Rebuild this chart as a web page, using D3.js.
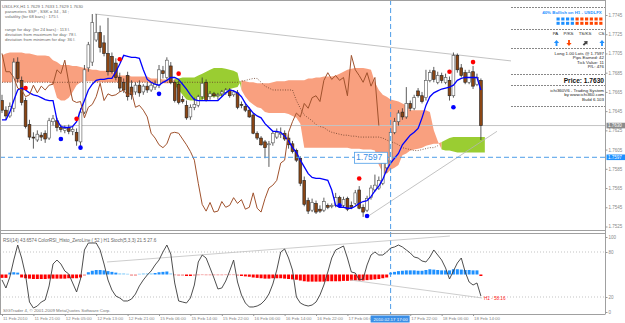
<!DOCTYPE html>
<html>
<head>
<meta charset="utf-8">
<script src="https://cdnjs.cloudflare.com/ajax/libs/d3/7.8.5/d3.min.js"></script>
<style>
  body { margin: 0; background: #fff; }
  text { font-family: "Liberation Sans", Arial, sans-serif; }
</style>
</head>
<body>
<div id="chart"></div>
<script>
// ---- USDLFX H1 candles (bar 0 = 11 Feb 2010) ----
const open = [
  1.7656,1.7646,1.7640,1.7648,1.7696,1.7677,1.7656,1.7631,1.7618,1.7615,
  1.7620,1.7622,1.7617,1.7634,1.7635,1.7628,1.7625,1.7628,1.7624,1.7623,
  1.7613,1.7644,1.7690,1.7696,1.7719,1.7727,1.7716,1.7705,1.7702,1.7695,
  1.7680,1.7675,1.7682,1.7670,1.7665,1.7672,1.7665,1.7671,1.7667,1.7670,
  1.7672,1.7687,1.7680,1.7692,1.7675,1.7673,1.7657,1.7651,1.7639,1.7649,
  1.7651,1.7660,1.7675,1.7660,1.7663,1.7661,1.7663,1.7664,1.7667,1.7662,
  1.7664,1.7652,1.7650,1.7646,1.7641,1.7622,1.7617,1.7613,1.7610,1.7612,
  1.7618,1.7621,1.7622,1.7617,1.7611,1.7604,1.7596,1.7573,1.7552,1.7542,
  1.7549,1.7543,1.7542,1.7547,1.7546,1.7547,1.7555,1.7547,1.7554,1.7547,
  1.7549,1.7563,1.7545,1.7542,1.7555,1.7563,1.7565,1.7570,1.7586,1.7592,
  1.7623,1.7634,1.7644,1.7639,1.7653,1.7648,1.7666,1.7661,1.7659,1.7677,
  1.7687,1.7675,1.7682,1.7675,1.7677,1.7661,1.7703,1.7690,1.7685,1.7675,
  1.7686,1.7673,1.7677];
const high = [
  1.7662,1.7650,1.7654,1.7700,1.7701,1.7681,1.7659,1.7636,1.7623,1.7625,
  1.7623,1.7625,1.7638,1.7641,1.7638,1.7631,1.7630,1.7631,1.7629,1.7627,
  1.7648,1.7693,1.7717,1.7746,1.7746,1.7734,1.7724,1.7742,1.7706,1.7700,
  1.7685,1.7679,1.7686,1.7677,1.7675,1.7677,1.7673,1.7675,1.7675,1.7677,
  1.7693,1.7692,1.7701,1.7696,1.7677,1.7677,1.7661,1.7656,1.7652,1.7659,
  1.7662,1.7680,1.7678,1.7666,1.7665,1.7664,1.7667,1.7669,1.7669,1.7667,
  1.7667,1.7655,1.7653,1.7649,1.7643,1.7624,1.7619,1.7615,1.7614,1.7624,
  1.7627,1.7628,1.7625,1.7621,1.7614,1.7606,1.7598,1.7577,1.7555,1.7554,
  1.7552,1.7547,1.7555,1.7549,1.7549,1.7560,1.7557,1.7556,1.7556,1.7551,
  1.7563,1.7567,1.7548,1.7557,1.7568,1.7579,1.7577,1.7602,1.7599,1.7627,
  1.7638,1.7646,1.7648,1.7670,1.7656,1.7662,1.7669,1.7665,1.7688,1.7688,
  1.7691,1.7686,1.7685,1.7684,1.7681,1.7706,1.7705,1.7694,1.7688,1.7688,
  1.7692,1.7684,1.7679];
const low = [
  1.7643,1.7636,1.7638,1.7644,1.7675,1.7651,1.7627,1.7615,1.7606,1.7613,
  1.7614,1.7612,1.7615,1.7630,1.7624,1.7623,1.7622,1.7621,1.7620,1.7609,
  1.7606,1.7642,1.7686,1.7692,1.7717,1.7706,1.7702,1.7682,1.7684,1.7677,
  1.7665,1.7664,1.7656,1.7657,1.7662,1.7660,1.7662,1.7664,1.7665,1.7667,
  1.7669,1.7679,1.7678,1.7673,1.7654,1.7652,1.7653,1.7636,1.7636,1.7646,
  1.7649,1.7657,1.7655,1.7657,1.7659,1.7657,1.7660,1.7662,1.7659,1.7660,
  1.7647,1.7648,1.7644,1.7638,1.7621,1.7615,1.7609,1.7596,1.7587,1.7609,
  1.7616,1.7617,1.7614,1.7606,1.7601,1.7592,1.7567,1.7546,1.7538,1.7540,
  1.7538,1.7539,1.7540,1.7543,1.7544,1.7545,1.7546,1.7545,1.7541,1.7543,
  1.7547,1.7543,1.7535,1.7540,1.7553,1.7561,1.7563,1.7568,1.7581,1.7590,
  1.7621,1.7630,1.7636,1.7637,1.7645,1.7646,1.7659,1.7653,1.7656,1.7675,
  1.7675,1.7673,1.7674,1.7673,1.7656,1.7659,1.7685,1.7680,1.7673,1.7673,
  1.7668,1.7671,1.7615];
const close = [
  1.7646,1.7640,1.7650,1.7696,1.7679,1.7654,1.7629,1.7618,1.7617,1.7621,
  1.7618,1.7616,1.7635,1.7637,1.7628,1.7626,1.7627,1.7624,1.7626,1.7614,
  1.7644,1.7688,1.7714,1.7737,1.7727,1.7711,1.7705,1.7686,1.7686,1.7680,
  1.7669,1.7667,1.7660,1.7662,1.7672,1.7664,1.7671,1.7667,1.7672,1.7673,
  1.7688,1.7684,1.7698,1.7675,1.7656,1.7654,1.7655,1.7638,1.7649,1.7652,
  1.7660,1.7674,1.7656,1.7663,1.7661,1.7662,1.7665,1.7667,1.7661,1.7665,
  1.7649,1.7651,1.7646,1.7639,1.7622,1.7617,1.7610,1.7607,1.7611,1.7622,
  1.7623,1.7622,1.7616,1.7610,1.7603,1.7594,1.7570,1.7548,1.7541,1.7550,
  1.7540,1.7541,1.7551,1.7545,1.7547,1.7555,1.7549,1.7553,1.7543,1.7545,
  1.7560,1.7544,1.7540,1.7554,1.7565,1.7568,1.7573,1.7591,1.7594,1.7623,
  1.7634,1.7643,1.7639,1.7653,1.7648,1.7659,1.7661,1.7655,1.7677,1.7685,
  1.7678,1.7682,1.7677,1.7680,1.7661,1.7703,1.7688,1.7682,1.7675,1.7685,
  1.7671,1.7680,1.7630];

// blue signal line
const signalLine = [
  1.7636,1.7636,1.7644,1.7656,1.7667,1.7669,1.7667,1.7664,1.7662,1.7661,
  1.7659,1.7657,1.7656,1.7656,1.7636,1.7629,1.7628,1.7628,1.7629,1.7634,
  1.7646,1.7656,1.7667,1.7673,1.7677,1.7678,1.7678,1.7679,1.7679,1.7686,
  1.7694,1.7703,1.7702,1.7701,1.7701,1.7700,1.7688,1.7678,1.7675,1.7673,
  1.7672,1.7675,1.7677,1.7680,1.7680,1.7678,1.7673,1.7668,1.7662,1.7657,
  1.7656,1.7656,1.7656,1.7656,1.7656,1.7656,1.7660,1.7664,1.7667,1.7666,
  1.7664,1.7660,1.7653,1.7648,1.7643,1.7640,1.7638,1.7632,1.7628,1.7624,
  1.7624,1.7623,1.7619,1.7614,1.7607,1.7602,1.7594,1.7587,1.7580,1.7576,
  1.7575,1.7575,1.7574,1.7573,1.7563,1.7547,1.7545,1.7545,1.7544,1.7544,
  1.7546,1.7549,1.7551,1.7552,1.7556,1.7562,1.7567,1.7574,1.7584,1.7591,
  1.7596,1.7601,1.7610,1.7615,1.7620,1.7623,1.7627,1.7638,1.7651,1.7660,
  1.7664,1.7666,1.7668,1.7669,1.7670,1.7672,1.7677,1.7679,1.7680,1.7680,
  1.7680,1.7680,1.7667];

// cloud spans (one bar longer than the candles)
const spanA = [
  1.7675,1.7675,1.7675,1.7675,1.7675,1.7675,1.7675,1.7675,1.7675,1.7675,
  1.7675,1.7675,1.7675,1.7673,1.7659,1.7656,1.7656,1.7659,1.7665,1.7672,
  1.7675,1.7676,1.7676,1.7676,1.7675,1.7675,1.7675,1.7675,1.7675,1.7675,
  1.7675,1.7675,1.7675,1.7675,1.7675,1.7675,1.7675,1.7675,1.7674,1.7674,
  1.7674,1.7674,1.7674,1.7674,1.7679,1.7679,1.7680,1.7680,1.7680,1.7680,
  1.7682,1.7684,1.7686,1.7688,1.7690,1.7690,1.7690,1.7689,1.7688,1.7687,
  1.7685,1.7667,1.7660,1.7655,1.7652,1.7649,1.7648,1.7644,1.7643,1.7643,
  1.7643,1.7643,1.7643,1.7642,1.7640,1.7638,1.7632,1.7607,1.7607,1.7607,
  1.7607,1.7607,1.7607,1.7607,1.7607,1.7607,1.7607,1.7607,1.7607,1.7606,
  1.7606,1.7606,1.7605,1.7605,1.7605,1.7604,1.7589,1.7581,1.7580,1.7584,
  1.7586,1.7589,1.7599,1.7601,1.7604,1.7605,1.7606,1.7607,1.7609,1.7610,
  1.7611,1.7611,1.7613,1.7615,1.7617,1.7618,1.7618,1.7618,1.7618,1.7618,
  1.7618,1.7618,1.7618,1.7618];
const spanB = [
  1.7703,1.7705,1.7706,1.7706,1.7706,1.7706,1.7705,1.7705,1.7704,1.7703,
  1.7703,1.7703,1.7702,1.7698,1.7696,1.7693,1.7693,1.7693,1.7692,1.7692,
  1.7691,1.7690,1.7689,1.7688,1.7688,1.7687,1.7687,1.7687,1.7687,1.7682,
  1.7682,1.7682,1.7682,1.7681,1.7681,1.7681,1.7681,1.7681,1.7679,1.7679,
  1.7679,1.7678,1.7678,1.7678,1.7672,1.7667,1.7662,1.7657,1.7656,1.7656,
  1.7656,1.7657,1.7659,1.7660,1.7660,1.7660,1.7661,1.7666,1.7668,1.7669,
  1.7670,1.7677,1.7676,1.7675,1.7675,1.7674,1.7674,1.7674,1.7674,1.7675,
  1.7676,1.7676,1.7676,1.7677,1.7677,1.7677,1.7677,1.7677,1.7679,1.7679,
  1.7680,1.7680,1.7681,1.7681,1.7681,1.7682,1.7684,1.7686,1.7688,1.7689,
  1.7690,1.7690,1.7690,1.7689,1.7688,1.7675,1.7667,1.7662,1.7660,1.7657,
  1.7656,1.7655,1.7653,1.7651,1.7646,1.7646,1.7646,1.7646,1.7646,1.7644,
  1.7625,1.7614,1.7605,1.7604,1.7604,1.7603,1.7602,1.7602,1.7602,1.7602,
  1.7602,1.7602,1.7602,1.7602];
// dotted span line inside the cloud
const spanLine = [
  1.7675,1.7675,1.7675,1.7675,1.7675,1.7675,1.7675,1.7675,1.7675,1.7675,
  1.7675,1.7675,1.7675,1.7675,1.7675,1.7675,1.7675,1.7675,1.7675,1.7675,
  1.7675,1.7675,1.7675,1.7675,1.7675,1.7675,1.7675,1.7675,1.7675,1.7675,
  1.7675,1.7675,1.7675,1.7675,1.7675,1.7675,1.7675,1.7675,1.7675,1.7675,
  1.7675,1.7675,1.7675,1.7675,1.7675,1.7675,1.7675,1.7675,1.7675,1.7675,
  1.7675,1.7675,1.7675,1.7675,1.7675,1.7675,1.7675,1.7675,1.7675,1.7675,
  1.7675,1.7676,1.7677,1.7678,1.7679,1.7679,1.7675,1.7671,1.7669,1.7667,
  1.7667,1.7667,1.7667,1.7667,1.7667,1.7656,1.7648,1.7641,1.7638,1.7635,
  1.7631,1.7629,1.7628,1.7625,1.7623,1.7622,1.7621,1.7620,1.7620,1.7619,
  1.7619,1.7618,1.7618,1.7618,1.7618,1.7618,1.7618,1.7617,1.7615,1.7613,
  1.7612,1.7610,1.7607,1.7606,1.7605,1.7604,1.7604,1.7605,1.7606,1.7607,
  1.7607,1.7609];

// fractal dots: [bar, price]
const redDots = [[6,1.7669],[19,1.7637],[30,1.7699],[45,1.7684],[91,1.7575],[114,1.7686],[120,1.7696]];
const blueDots = [[15,1.7616],[20,1.7607],[40,1.7663],[86,1.7547],[93,1.7536],[115,1.7649]];

// trend lines: [bar1, value1, bar2, value2]
const mainTrend = [[23.7,1.7746,130.2,1.7697],[93,1.7535,126.1,1.7624]];
const subTrend = [[26.75,66.7,114.1,101.3],[88.7,42.7,122.3,18.7]];

// sub window: Stoch(5,3,3) main line and ColorRSI(52) histogram
const stoch = [
  42.7,32,46.7,69.3,89.3,72,49.3,13.3,5.3,8,
  13.3,16,34.7,64,69.3,64,54.7,50.7,38.7,26.7,
  44,82.7,92,92,92,82.7,64,42.7,29.3,21.3,
  18.7,14.7,14.7,17.3,24,34.7,42.7,49.3,54.7,62.7,
  69.3,80,89.3,77.3,38.7,14.7,13.3,12,18.7,36,
  66.7,76,72,58.7,45.3,30.7,32,41.3,54.7,69.3,
  40,22.7,12,6.7,6.7,8,10.7,16,24,37.3,
  56,80,84,72,56,20,12,9.3,8,9.3,
  13.3,22.7,36,53.3,72,82.7,85.3,88,72,53.3,
  52,42.7,44,62.7,76,80,76,76,80,85.3,
  86.7,89.3,86.7,82.7,78.7,73.3,72,68,66.7,73.3,
  82.7,76,69.3,58.7,44,54.7,65.3,72,53.3,40,
  36,38.7,21.3];
const rsiHisto = [
  45.5,45.5,52.5,53,52.5,46,45,44.5,44,44,
  44,44,44.5,44.5,44.5,44.5,44.5,45,45,45,
  46,48.5,53,55,56,56,55.5,54.5,53.5,52.5,
  51.5,51.5,51,48.5,48.5,51,51.5,51.5,51.5,52,
  53,53.5,54,51.5,49,48.5,48.5,48,48,48.5,
  49,49.5,49,49,49,49,49,49.5,49.5,49.5,
  48.5,48,47.5,47,46,45.5,45,44.5,44.5,45,
  45,45,44.5,44,43.5,43,42,41,40.5,40.5,
  40.5,40.5,40.5,41,41,41,41,41.5,41.5,42,
  42,42,42,42.5,43,43.5,44,45,46,52.5,
  53.5,54.5,55,55.5,55.5,55.5,55,55,56,57,
  56.5,56,55.5,55.5,55.5,57,57,56.5,56,56,
  55.5,55.5,48];

// axes
const priceTicks = [1.7745,1.7725,1.7705,1.7685,1.7665,1.7645,1.7625,1.7605,1.7585,1.7565,1.7545,1.7525];
const subTicks = [0,20,80,100];
// the 17 Feb 14:00 tick sits under the cursor time box, so it is left out
const timeIdx = [0,8,16,24,32,40,48,56,64,72,80,88,104,112,120];
const timeLabels = ['11 Feb 2010','11 Feb 21:00','12 Feb 05:00','12 Feb 13:00','12 Feb 21:00','15 Feb 06:00',
  '15 Feb 14:00','15 Feb 22:00','16 Feb 06:00','16 Feb 14:00','16 Feb 22:00','17 Feb 06:00',
  '17 Feb 22:00','18 Feb 06:00','18 Feb 14:00'];

const bidPrice = 1.7630, entryPrice = 1.7597, cursorBar = 99;

const W = 625, H = 323;
const AXIS_X = 605.5, MAIN_B = 231, SUB_T = 234, SUB_B = 314;

let svg = d3.select('#chart').append('svg').attr('width', W).attr('height', H);
svg.append('rect').attr('width', W).attr('height', H).attr('fill', '#fff');

let defs = svg.append('defs');
defs.append('clipPath').attr('id', 'clip-main').append('rect')
    .attr('x', 0).attr('y', 0).attr('width', AXIS_X).attr('height', MAIN_B);
defs.append('clipPath').attr('id', 'clip-sub').append('rect')
    .attr('x', 0).attr('y', SUB_T).attr('width', AXIS_X).attr('height', SUB_B - SUB_T);

// scales
let x = d3.scaleLinear().domain([0, 122]).range([2, 480.9]);
let y = d3.scaleLinear().domain([1.7525, 1.7745]).range([226.5, 15]);
let ys = d3.scaleLinear().domain([0, 100]).range([312, 237]);

let main = svg.append('g').attr('clip-path', 'url(#clip-main)');

// Ichimoku cloud, split into runs of the same colour
let runs = [];
spanA.forEach((a, i) => {
    let up = a >= spanB[i];
    let last = runs[runs.length - 1];
    if (!last || last.up !== up) {
        if (last) last.idx.push(i);
        runs.push({ up: up, idx: [i] });
    } else {
        last.idx.push(i);
    }
});
let cloudArea = d3.area().x(i => x(i)).y0(i => y(spanA[i])).y1(i => y(spanB[i]));
main.selectAll('path.cloud').data(runs).join('path')
    .attr('class', 'cloud')
    .attr('d', r => cloudArea(r.idx))
    .attr('fill', r => r.up ? '#9ACD32' : '#F9A07F');

main.append('path')
    .attr('d', d3.line().x((d, i) => x(i)).y(d => y(d))(spanLine))
    .attr('fill', 'none').attr('stroke', '#6b3f2a').attr('stroke-width', 0.8)
    .attr('stroke-dasharray', '1,1.5');

// bid line
main.append('line').attr('x1', 0).attr('x2', AXIS_X).attr('y1', y(bidPrice)).attr('y2', y(bidPrice))
    .attr('stroke', '#c4c4c4');

// trend lines
main.selectAll('line.trend').data(mainTrend).join('line')
    .attr('x1', d => x(d[0])).attr('y1', d => y(d[1]))
    .attr('x2', d => x(d[2])).attr('y2', d => y(d[3]))
    .attr('stroke', '#b4b4b4').attr('stroke-width', 0.8);

// candles
let bars = close.map((c, i) => ({ i: i, o: open[i], h: high[i], l: low[i], c: c }));
main.selectAll('line.wick').data(bars).join('line')
    .attr('x1', d => x(d.i)).attr('x2', d => x(d.i))
    .attr('y1', d => y(d.h)).attr('y2', d => y(d.l))
    .attr('stroke', '#333').attr('stroke-width', 0.8);
main.selectAll('rect.body').data(bars).join('rect')
    .attr('x', d => x(d.i) - 1.4).attr('width', 2.8)
    .attr('y', d => y(Math.max(d.o, d.c)))
    .attr('height', d => Math.max(0.8, Math.abs(y(d.o) - y(d.c))))
    .attr('fill', d => d.c >= d.o ? '#fff' : '#8B4513')
    .attr('stroke', d => d.c >= d.o ? '#555' : '#222').attr('stroke-width', 0.6);

// blue line
main.append('path')
    .attr('d', d3.line().x((d, i) => x(i)).y(d => y(d))(signalLine))
    .attr('fill', 'none').attr('stroke', '#0000ff').attr('stroke-width', 1.3);

// chikou: close shifted back 26 bars
let chikou = close.map((c, i) => [i - 26, c]).filter(d => d[0] >= 0);
main.append('path')
    .attr('d', d3.line().x(d => x(d[0])).y(d => y(d[1]))(chikou))
    .attr('fill', 'none').attr('stroke', '#A0522D').attr('stroke-width', 1);

main.selectAll('circle.red').data(redDots).join('circle')
    .attr('cx', d => x(d[0])).attr('cy', d => y(d[1])).attr('r', 2.3).attr('fill', '#ff0000');
main.selectAll('circle.blue').data(blueDots).join('circle')
    .attr('cx', d => x(d[0])).attr('cy', d => y(d[1])).attr('r', 2.3).attr('fill', '#0000ff');

// entry line and cursor
main.append('line').attr('x1', 0).attr('x2', AXIS_X).attr('y1', y(entryPrice)).attr('y2', y(entryPrice))
    .attr('stroke', '#4d9de8').attr('stroke-dasharray', '5,3');
svg.append('line').attr('x1', x(cursorBar)).attr('x2', x(cursorBar)).attr('y1', 0).attr('y2', SUB_B)
    .attr('stroke', '#4d9de8').attr('stroke-dasharray', '5,3');

main.append('rect').attr('x', 354.5).attr('y', y(entryPrice) - 5).attr('width', 33).attr('height', 11)
    .attr('fill', '#fff').attr('stroke', '#4d9de8').attr('stroke-width', 0.8);
main.append('text').attr('x', 356).attr('y', y(entryPrice) + 3.2).text(d3.format('.4f')(entryPrice))
    .attr('font-size', 8.6).attr('fill', '#3a8ee6');

// top-left info text
const infoLines = [
    [2, 7.5, 'USDLFX,H1  1.7629 1.7633 1.7629 1.7630'],
    [5, 12.5, 'parameters  SSP , SSK =   34 ,  34 ;'],
    [5, 17.5, 'volatility  (for 68 bars) :      175  l.'],
    [5, 30.5, 'range for day:  (for  24  bars) :   113  l.'],
    [5, 35.5, 'deviation from maximum for day:   78  l.'],
    [5, 40.5, 'deviation from minimum for day:   36  l.']
];
svg.selectAll('text.info').data(infoLines).join('text')
    .attr('x', d => d[0]).attr('y', d => d[1]).text(d => d[2])
    .attr('font-size', 4.3).attr('fill', '#6a6a6a');

// right info panel
let panel = svg.append('g');
panel.append('rect').attr('x', 511).attr('y', 1).attr('width', 94).attr('height', 107).attr('fill', '#fff');
[7, 29, 48, 74, 85, 106].forEach(py => {
    panel.append('line').attr('x1', 511).attr('x2', 605).attr('y1', py + 0.5).attr('y2', py + 0.5)
        .attr('stroke', '#555').attr('stroke-dasharray', '2,1').attr('stroke-width', 0.7);
});
panel.append('text').attr('x', 572).attr('y', 14).attr('text-anchor', 'middle')
    .attr('font-size', 4.4).attr('font-weight', 'bold').attr('fill', '#1E90FF')
    .text('40% Bullish on H1 - USDLFX');
for (let k = 0; k < 10; k++) {
    [17.5, 21.8].forEach(py => {
        panel.append('rect').attr('x', 556.5 + k * 4.75).attr('y', py).attr('width', 3.2).attr('height', 3)
            .attr('fill', k < 4 ? '#1E90FF' : '#FF4500');
    });
}
[['PA', 555.5], ['P/KS', 568.5], ['TS/KS', 585], ['CS', 601.5]].forEach(d => {
    panel.append('text').attr('x', d[1]).attr('y', 35).attr('text-anchor', 'middle')
        .attr('font-size', 4.4).attr('fill', '#222').text(d[0]);
});
function arrow(cx, cy, rot, col) {
    panel.append('path')
        .attr('d', 'M0,-3 L2.6,0 L0.9,0 L0.9,3 L-0.9,3 L-0.9,0 L-2.6,0 Z')
        .attr('transform', `translate(${cx},${cy}) rotate(${rot})`)
        .attr('fill', col);
}
arrow(556.5, 43, 0, '#1E90FF');
arrow(569, 43, 180, '#FF4500');
arrow(585.5, 43, 45, '#444');
arrow(602, 43, 0, '#1E90FF');
[['Long 1.00 Lots @ 1.7597', 54.5], ['Pips Earned: 42', 59], ['Tick Value: 11', 63.5], ['P/L: 476', 68],
 ['ichi360V6 - Trading System', 91.5], ['by www.ichi360.com', 96], ['Build 6.103', 100.5]].forEach(d => {
    panel.append('text').attr('x', 604).attr('y', d[1]).attr('text-anchor', 'end')
        .attr('font-size', 4.4).attr('fill', '#222').text(d[0]);
});
panel.append('text').attr('x', 604).attr('y', 82.5).attr('text-anchor', 'end')
    .attr('font-size', 6.6).attr('font-weight', 'bold').attr('fill', '#111').text('Price: 1.7630');

// frame
svg.append('line').attr('x1', 0.5).attr('x2', 0.5).attr('y1', 0).attr('y2', SUB_B).attr('stroke', '#a0a0a0');
svg.append('line').attr('x1', 0).attr('x2', AXIS_X).attr('y1', 0.5).attr('y2', 0.5).attr('stroke', '#a0a0a0');
svg.append('line').attr('x1', AXIS_X).attr('x2', AXIS_X).attr('y1', 0).attr('y2', SUB_B).attr('stroke', '#a0a0a0');
svg.append('line').attr('x1', 0).attr('x2', AXIS_X).attr('y1', MAIN_B - 0.5).attr('y2', MAIN_B - 0.5).attr('stroke', '#a0a0a0');
svg.append('line').attr('x1', 0).attr('x2', AXIS_X).attr('y1', SUB_T - 0.5).attr('y2', SUB_T - 0.5).attr('stroke', '#a0a0a0');
svg.append('line').attr('x1', 0).attr('x2', AXIS_X).attr('y1', SUB_B + 0.5).attr('y2', SUB_B + 0.5).attr('stroke', '#a0a0a0');

// price axis
let yAxis = svg.append('g').attr('transform', `translate(${AXIS_X},0)`)
    .call(d3.axisRight(y).tickValues(priceTicks).tickSize(2).tickPadding(1).tickFormat(d3.format('.4f')));
yAxis.select('.domain').remove();
yAxis.selectAll('line').attr('stroke', '#999');
yAxis.selectAll('text').attr('font-size', 4.5).attr('fill', '#888').attr('font-family', 'Liberation Sans');

function priceBox(p, fill) {
    svg.append('rect').attr('x', AXIS_X + 1).attr('y', y(p) - 2.8).attr('width', 18.5).attr('height', 5.6).attr('fill', fill);
    svg.append('text').attr('x', AXIS_X + 2.5).attr('y', y(p) + 1.6).text(d3.format('.4f')(p))
        .attr('font-size', 4.5).attr('fill', '#fff');
}
priceBox(bidPrice, '#8c8c8c');
priceBox(entryPrice, '#1E90FF');

// ---- sub window ----
let sub = svg.append('g').attr('clip-path', 'url(#clip-sub)');
[20, 80].forEach(v => {
    sub.append('line').attr('x1', 0).attr('x2', AXIS_X).attr('y1', ys(v)).attr('y2', ys(v))
        .attr('stroke', '#aaa').attr('stroke-dasharray', '1,2').attr('stroke-width', 0.7);
});
sub.selectAll('rect.histo').data(rsiHisto).join('rect')
    .attr('x', (d, i) => x(i) - 1.5).attr('width', 3)
    .attr('y', d => ys(Math.max(d, 50)))
    .attr('height', d => Math.max(0.6, Math.abs(ys(d) - ys(50))))
    .attr('fill', d => d >= 50 ? (d - 50 < 2 ? '#87CEFA' : '#1E90FF') : (50 - d < 2 ? '#F08080' : '#ff0000'));
sub.selectAll('line.strend').data(subTrend).join('line')
    .attr('x1', d => x(d[0])).attr('y1', d => ys(d[1]))
    .attr('x2', d => x(d[2])).attr('y2', d => ys(d[3]))
    .attr('stroke', '#c0c0c0').attr('stroke-width', 0.8);
sub.append('path')
    .attr('d', d3.line().x((d, i) => x(i)).y(d => ys(d))(stoch))
    .attr('fill', 'none').attr('stroke', '#3a3a3a').attr('stroke-width', 0.9);

svg.append('text').attr('x', 3).attr('y', 241.5).attr('font-size', 4.6).attr('fill', '#666')
    .text('RSI(14) 43.6574   ColorRSI_Histo_ZeroLine ( 52 )   H1 Stoch(5,3,3) 21.5 27.6');
svg.append('text').attr('x', 3).attr('y', 311.5).attr('font-size', 4.4).attr('fill', '#777')
    .text('SIGTrader 4, \u00a9 2001-2009 MetaQuotes Software Corp.');
svg.append('text').attr('x', 484).attr('y', 299.5).attr('font-size', 4.6).attr('fill', '#ff2020')
    .text('H1 - 58:16');

let sAxis = svg.append('g').attr('transform', `translate(${AXIS_X},0)`)
    .call(d3.axisRight(ys).tickValues(subTicks).tickSize(2).tickPadding(1));
sAxis.select('.domain').remove();
sAxis.selectAll('line').attr('stroke', '#999');
sAxis.selectAll('text').attr('font-size', 4.5).attr('fill', '#888').attr('font-family', 'Liberation Sans');

// time axis
let xAxis = svg.append('g').attr('transform', `translate(0,${SUB_B})`)
    .call(d3.axisBottom(x).tickValues(timeIdx).tickSize(2).tickFormat((d, k) => timeLabels[k]));
xAxis.select('.domain').remove();
xAxis.selectAll('line').attr('stroke', '#999');
xAxis.selectAll('text').attr('text-anchor', 'start').attr('x', 0.5).attr('y', 3).attr('dy', '0.71em')
    .attr('font-size', 4.4).attr('fill', '#888').attr('font-family', 'Liberation Sans');

let cx = x(cursorBar);
svg.append('rect').attr('x', cx - 20).attr('y', SUB_B + 1.5).attr('width', 39).attr('height', 7).attr('fill', '#3a8ee6');
svg.append('text').attr('x', cx).attr('y', SUB_B + 6.7).attr('text-anchor', 'middle')
    .attr('font-size', 4.4).attr('fill', '#fff').text('2010.02.17 17:00');
</script>
</body>
</html>
